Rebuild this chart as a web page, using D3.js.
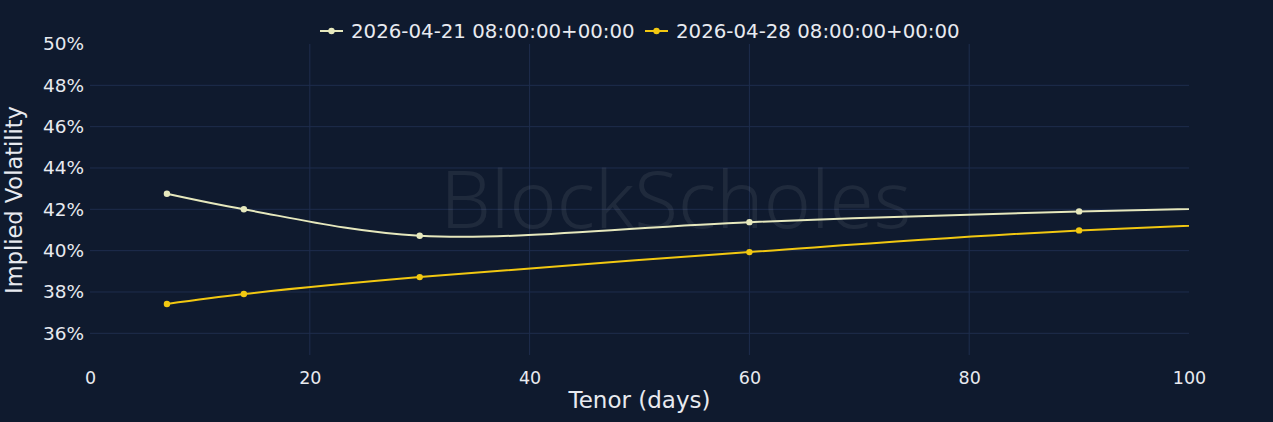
<!DOCTYPE html>
<html>
<head>
<meta charset="utf-8">
<script src="https://cdn.jsdelivr.net/npm/d3@7"></script>
<style>
  html, body { margin: 0; padding: 0; background: #0f1a2e; }
  svg { display: block; font-family: 'DejaVu Sans', Verdana, sans-serif; }
</style>
</head>
<body>
<div id="chart"></div>
<script>
/* global d3 */

// tenor in days
const tenors = [7, 14, 30, 60, 90, 180];
// implied vol (%) for each snapshot
const volApr21 = [42.75, 42.0, 40.72, 41.38, 41.9, 42.9];
const volApr28 = [37.42, 37.9, 38.72, 39.93, 40.98, 42.9];
const seriesNames = ['2026-04-21 08:00:00+00:00', '2026-04-28 08:00:00+00:00'];
const seriesColors = ['#e6e8bd', '#f2c811'];
const xTicks = [0, 20, 40, 60, 80, 100];
const yTicks = [36, 38, 40, 42, 44, 46, 48, 50];

const width = 1273;
const height = 422;
const margin = { top: 44, right: 84, bottom: 67, left: 90 };
const innerW = width - margin.left - margin.right;
const innerH = height - margin.top - margin.bottom;

const svg = d3.select('#chart').append('svg')
  .attr('width', width)
  .attr('height', height);

svg.append('rect')
  .attr('width', width)
  .attr('height', height)
  .attr('fill', '#0f1a2e');

const x = d3.scaleLinear().domain([0, 100]).range([0, innerW]);
const y = d3.scaleLinear().domain([34.95, 50]).range([innerH, 0]);

const g = svg.append('g')
  .attr('transform', `translate(${margin.left},${margin.top})`);

svg.append('defs').append('clipPath')
  .attr('id', 'plot-clip')
  .append('rect')
  .attr('x', 0)
  .attr('y', 0)
  .attr('width', innerW)
  .attr('height', innerH);

// grid
g.append('g')
  .selectAll('line')
  .data(yTicks.filter(d => d < 50))
  .enter().append('line')
  .attr('x1', 0)
  .attr('x2', innerW)
  .attr('y1', d => y(d))
  .attr('y2', d => y(d))
  .attr('stroke', '#1e2d4d')
  .attr('stroke-width', 1);

g.append('g')
  .selectAll('line')
  .data(xTicks.filter(d => d > 0 && d < 100))
  .enter().append('line')
  .attr('x1', d => x(d))
  .attr('x2', d => x(d))
  .attr('y1', 0)
  .attr('y2', innerH)
  .attr('stroke', '#1e2d4d')
  .attr('stroke-width', 1);

// watermark
g.append('text')
  .attr('x', x(53.3))
  .attr('y', y(41.1))
  .attr('text-anchor', 'middle')
  .attr('font-family', "'Noto Sans', sans-serif")
  .attr('font-size', 80)
  .attr('font-weight', 300)
  .attr('fill', '#ffffff')
  .attr('fill-opacity', 0.07)
  .text('BlockScholes');

// axes labels
const xAxis = d3.axisBottom(x).tickValues(xTicks).tickSize(0).tickPadding(17);
g.append('g')
  .attr('transform', `translate(0,${innerH})`)
  .call(xAxis)
  .call(sel => sel.select('.domain').remove())
  .selectAll('text')
  .attr('fill', '#e8eaf0')
  .attr('font-size', 17.5)
  .attr('font-family', "'DejaVu Sans', Verdana, sans-serif");

const yAxis = d3.axisLeft(y).tickValues(yTicks).tickSize(0).tickPadding(6)
  .tickFormat(d => `${d}%`);
g.append('g')
  .call(yAxis)
  .call(sel => sel.select('.domain').remove())
  .selectAll('text')
  .attr('fill', '#e8eaf0')
  .attr('font-size', 18.5)
  .attr('font-family', "'DejaVu Sans', Verdana, sans-serif");

svg.append('text')
  .attr('x', margin.left + innerW / 2)
  .attr('y', 408)
  .attr('text-anchor', 'middle')
  .attr('fill', '#e8eaf0')
  .attr('font-size', 23)
  .text('Tenor (days)');

svg.append('text')
  .attr('transform', `translate(22,${margin.top + 156}) rotate(-90)`)
  .attr('text-anchor', 'middle')
  .attr('fill', '#e8eaf0')
  .attr('font-size', 22.5)
  .text('Implied Volatility');

// lines
const series = [volApr21, volApr28].map((vals, i) => ({
  name: seriesNames[i],
  color: seriesColors[i],
  points: tenors.map((t, j) => ({ t, v: vals[j] })),
}));

const line = d3.line()
  .x(d => x(d.t))
  .y(d => y(d.v))
  .curve(d3.curveCatmullRom.alpha(0.5));

const plot = g.append('g').attr('clip-path', 'url(#plot-clip)');

series.forEach((s) => {
  plot.append('path')
    .datum(s.points)
    .attr('d', line)
    .attr('fill', 'none')
    .attr('stroke', s.color)
    .attr('stroke-width', 2);

  plot.selectAll(null)
    .data(s.points.filter(p => p.t <= 100))
    .enter().append('circle')
    .attr('cx', d => x(d.t))
    .attr('cy', d => y(d.v))
    .attr('r', 3.2)
    .attr('fill', s.color);
});

// legend
const legendItems = [
  { x: 320, s: series[0] },
  { x: 645, s: series[1] },
];
const legend = svg.append('g').attr('transform', 'translate(0,31)');
legendItems.forEach((item) => {
  const lg = legend.append('g').attr('transform', `translate(${item.x},0)`);
  lg.append('line')
    .attr('x1', 0)
    .attr('x2', 23)
    .attr('stroke', item.s.color)
    .attr('stroke-width', 2);
  lg.append('circle')
    .attr('cx', 11.5)
    .attr('r', 3.2)
    .attr('fill', item.s.color);
  lg.append('text')
    .attr('x', 31)
    .attr('dy', '0.35em')
    .attr('fill', '#e8eaf0')
    .attr('font-size', 19.8)
    .text(item.s.name);
});
</script>
</body>
</html>
